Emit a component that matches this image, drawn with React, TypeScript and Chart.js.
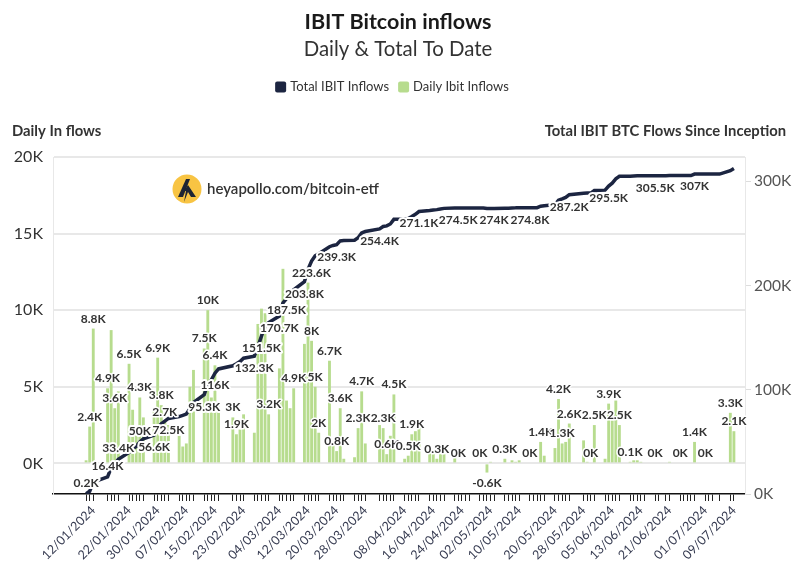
import React, { useEffect, useRef } from "react";
import { Chart, registerables } from "chart.js";

Chart.register(...registerables);

const FONT = "Lato, 'Open Sans', sans-serif";
const NAVY = "#1c2541";
const GREEN = "#b7dc8e";

const TITLE = "IBIT Bitcoin inflows";
const SUBTITLE = "Daily & Total To Date";
const LEGEND_LINE = "Total IBIT Inflows";
const LEGEND_BAR = "Daily Ibit Inflows";
const LEFT_AXIS_TITLE = "Daily In flows";
const RIGHT_AXIS_TITLE = "Total IBIT BTC Flows Since Inception";
const WATERMARK = "heyapollo.com/bitcoin-etf";

const tradingDays: string[] = [
  "10/01/2024", "11/01/2024", "12/01/2024",
  "16/01/2024", "17/01/2024", "18/01/2024", "19/01/2024",
  "22/01/2024", "23/01/2024", "24/01/2024", "25/01/2024", "26/01/2024",
  "29/01/2024", "30/01/2024", "31/01/2024", "01/02/2024", "02/02/2024",
  "05/02/2024", "06/02/2024", "07/02/2024", "08/02/2024", "09/02/2024",
  "12/02/2024", "13/02/2024", "14/02/2024", "15/02/2024", "16/02/2024",
  "20/02/2024", "21/02/2024", "22/02/2024", "23/02/2024",
  "26/02/2024", "27/02/2024", "28/02/2024", "29/02/2024", "01/03/2024",
  "04/03/2024", "05/03/2024", "06/03/2024", "07/03/2024", "08/03/2024",
  "11/03/2024", "12/03/2024", "13/03/2024", "14/03/2024", "15/03/2024",
  "18/03/2024", "19/03/2024", "20/03/2024", "21/03/2024", "22/03/2024",
  "25/03/2024", "26/03/2024", "27/03/2024", "28/03/2024",
  "01/04/2024", "02/04/2024", "03/04/2024", "04/04/2024", "05/04/2024",
  "08/04/2024", "09/04/2024", "10/04/2024", "11/04/2024", "12/04/2024",
  "15/04/2024", "16/04/2024", "17/04/2024", "18/04/2024", "19/04/2024",
  "22/04/2024", "23/04/2024", "24/04/2024", "25/04/2024", "26/04/2024",
  "29/04/2024", "30/04/2024", "01/05/2024", "02/05/2024", "03/05/2024",
  "06/05/2024", "07/05/2024", "08/05/2024", "09/05/2024", "10/05/2024",
  "13/05/2024", "14/05/2024", "15/05/2024", "16/05/2024", "17/05/2024",
  "20/05/2024", "21/05/2024", "22/05/2024", "23/05/2024", "24/05/2024",
  "28/05/2024", "29/05/2024", "30/05/2024", "31/05/2024",
  "03/06/2024", "04/06/2024", "05/06/2024", "06/06/2024", "07/06/2024",
  "10/06/2024", "11/06/2024", "12/06/2024", "13/06/2024", "14/06/2024",
  "17/06/2024", "18/06/2024", "20/06/2024", "21/06/2024",
  "24/06/2024", "25/06/2024", "26/06/2024", "27/06/2024", "28/06/2024",
  "01/07/2024", "02/07/2024", "03/07/2024", "05/07/2024",
  "08/07/2024", "09/07/2024",
];

// Daily IBIT inflows, thousands of BTC
const dailyInflowsK: number[] = [
  0.2, 2.4, 8.8,
  4.9, 8.7, 3.6, 4.7,
  6.5, 3.5, 2.3, 4.3, 3.0,
  3.6, 6.9, 3.8, 2.7, 2.5,
  1.8, 1.1, 1.3, 5.0, 6.1,
  7.5, 10.0, 4.3, 6.4, 4.0,
  3.0, 1.9, 2.2, 3.2,
  2.0, 9.1, 10.1, 9.8, 3.2,
  6.2, 12.7, 4.1, 3.6, 4.9,
  7.8, 11.8, 8.0, 5.0, 2.0,
  6.7, 1.2, 0.8, 3.6, 0.3,
  0.4, 2.3, 4.7, 1.3,
  2.5, 2.3, 0.6, 1.8, 4.5,
  0.3, 0.5, 1.9, 2.1, 2.7,
  0.9, 0.6, 0.3, 0.6, 0.6,
  0.4, 0, 0, 0, 0,
  0, 0, -0.6, 0.1, 0,
  0.3, 0, 0.2, 0.1, 0.2,
  0, 0, 0, 1.4, 0.5,
  1.0, 4.2, 1.3, 1.4, 2.6,
  1.5, 0.1, 0, 2.5,
  0.3, 3.9, 2.8, 4.1, 2.5,
  0.1, 0.2, 0.2, 0.1, 0,
  0, 0, 0, 0.1,
  0, 0, 0, 0, 1.4,
  0, 0, 0, 0,
  3.3, 2.1,
];

// Total IBIT inflows to date, thousands of BTC
const totalInflowsK: number[] = [
  0.2, 2.6, 11.4,
  16.4, 25.1, 28.7, 33.4,
  39.9, 43.4, 45.7, 50.0, 53.0,
  56.6, 63.5, 67.3, 70.0, 72.5,
  74.3, 75.4, 76.7, 81.7, 87.8,
  95.3, 105.3, 109.6, 116.0, 120.0,
  123.0, 124.9, 127.1, 130.3,
  132.3, 141.4, 151.5, 161.3, 164.5,
  170.7, 183.4, 187.5, 191.1, 196.0,
  203.8, 215.6, 223.6, 228.6, 230.6,
  237.3, 238.5, 239.3, 242.9, 243.2,
  243.6, 245.9, 250.6, 251.9,
  254.4, 256.7, 257.3, 259.1, 263.6,
  263.9, 264.4, 266.3, 268.4, 271.1,
  272.0, 272.6, 272.9, 273.5, 274.1,
  274.5, 274.5, 274.5, 274.5, 274.5,
  274.5, 274.5, 273.9, 274.0, 274.0,
  274.3, 274.3, 274.5, 274.6, 274.8,
  274.8, 274.8, 274.8, 276.2, 276.7,
  277.7, 281.9, 283.2, 284.6, 287.2,
  288.7, 288.8, 288.8, 291.3,
  291.6, 295.5, 298.3, 302.4, 304.9,
  305.0, 305.2, 305.4, 305.5, 305.5,
  305.5, 305.5, 305.5, 305.6,
  305.6, 305.6, 305.6, 305.6, 307.0,
  307.0, 307.0, 307.0, 307.0,
  310.3, 312.4,
];

const xTickLabelDays: string[] = [
  "12/01/2024", "22/01/2024", "30/01/2024", "07/02/2024", "15/02/2024", "23/02/2024",
  "04/03/2024", "12/03/2024", "20/03/2024", "28/03/2024", "08/04/2024", "16/04/2024",
  "24/04/2024", "02/05/2024", "10/05/2024", "20/05/2024", "28/05/2024", "05/06/2024",
  "13/06/2024", "21/06/2024", "01/07/2024", "09/07/2024",
];

const barLabelDays: string[] = [
  "11/01/2024", "12/01/2024", "16/01/2024", "18/01/2024", "22/01/2024", "25/01/2024",
  "30/01/2024", "31/01/2024", "01/02/2024", "12/02/2024", "13/02/2024", "15/02/2024",
  "20/02/2024", "21/02/2024", "01/03/2024", "08/03/2024", "13/03/2024", "14/03/2024",
  "15/03/2024", "18/03/2024", "20/03/2024", "21/03/2024", "26/03/2024", "27/03/2024",
  "02/04/2024", "03/04/2024", "05/04/2024", "09/04/2024", "10/04/2024", "17/04/2024",
  "23/04/2024", "29/04/2024", "01/05/2024", "06/05/2024", "13/05/2024", "16/05/2024",
  "21/05/2024", "22/05/2024", "24/05/2024", "30/05/2024", "31/05/2024", "04/06/2024",
  "07/06/2024", "10/06/2024", "17/06/2024", "24/06/2024", "28/06/2024", "01/07/2024",
  "08/07/2024", "09/07/2024",
];

const lineLabelDays: string[] = [
  "10/01/2024", "16/01/2024", "19/01/2024", "25/01/2024", "29/01/2024", "02/02/2024",
  "12/02/2024", "15/02/2024", "26/02/2024", "28/02/2024", "04/03/2024", "06/03/2024",
  "11/03/2024", "13/03/2024", "20/03/2024", "01/04/2024", "12/04/2024", "23/04/2024",
  "03/05/2024", "13/05/2024", "24/05/2024", "04/06/2024", "17/06/2024", "28/06/2024",
];
const lineLabelsAboveDays: string[] = ["10/01/2024", "16/01/2024", "19/01/2024", "25/01/2024"];

const leftTicksK: number[] = [0, 5, 10, 15, 20];
const rightTicksK: number[] = [0, 100, 200, 300];

function dayNumber(s: string): number {
  const [d, m, y] = s.split("/").map(Number);
  return Math.round((Date.UTC(y, m - 1, d) - Date.UTC(2024, 0, 1)) / 86400000);
}

function fmtK(v: number): string {
  let r = Math.round(v * 10) / 10;
  if (Object.is(r, -0)) r = 0;
  return r + "K";
}

function haloText(ctx: CanvasRenderingContext2D, txt: string, x: number, y: number, halo: number) {
  ctx.lineJoin = "round";
  ctx.strokeStyle = "#ffffff";
  ctx.lineWidth = halo;
  ctx.strokeText(txt, x, y);
  ctx.fillStyle = "#333333";
  ctx.fillText(txt, x, y);
}

const valueLabelPlugin = {
  id: "valueLabels",
  afterDatasetsDraw(chart: any) {
    const ctx: CanvasRenderingContext2D = chart.ctx;
    ctx.save();
    ctx.font = `bold 12px ${FONT}`;
    ctx.textAlign = "center";
    const barMeta = chart.getDatasetMeta(1);
    barLabelDays.forEach((day) => {
      const i = tradingDays.indexOf(day);
      if (i < 0) return;
      const el = barMeta.data[i];
      const v = dailyInflowsK[i];
      if (v >= 0) {
        ctx.textBaseline = "alphabetic";
        haloText(ctx, fmtK(v), el.x, el.y - 6, 3);
      } else {
        ctx.textBaseline = "top";
        haloText(ctx, fmtK(v), el.x, el.y + 5, 3);
      }
    });
    const lineMeta = chart.getDatasetMeta(0);
    ctx.textBaseline = "middle";
    lineLabelDays.forEach((day) => {
      const i = tradingDays.indexOf(day);
      if (i < 0) return;
      const el = lineMeta.data[i];
      const above = lineLabelsAboveDays.includes(day);
      haloText(ctx, fmtK(totalInflowsK[i]), el.x, el.y + (above ? -11 : 12), 4);
    });
    ctx.restore();
  },
};

const decorPlugin = {
  id: "decor",
  beforeDatasetsDraw(chart: any) {
    const ctx: CanvasRenderingContext2D = chart.ctx;
    ctx.save();
    // watermark logo
    const cx = 187, cy = 189;
    ctx.fillStyle = "#f8c443";
    ctx.beginPath();
    ctx.arc(cx, cy, 14.5, 0, Math.PI * 2);
    ctx.fill();
    ctx.fillStyle = "#1d2433";
    ctx.beginPath();
    ctx.moveTo(cx - 9, cy + 8);
    ctx.lineTo(cx - 1, cy - 10);
    ctx.lineTo(cx + 3, cy - 10);
    ctx.lineTo(cx - 4, cy + 8);
    ctx.closePath();
    ctx.fill();
    ctx.beginPath();
    ctx.moveTo(cx + 1, cy - 4);
    ctx.lineTo(cx + 9, cy + 8);
    ctx.lineTo(cx + 4, cy + 8);
    ctx.lineTo(cx + 1, cy + 3);
    ctx.lineTo(cx - 3, cy + 13);
    ctx.lineTo(cx - 1, cy + 2);
    ctx.lineTo(cx - 3, cy + 2);
    ctx.closePath();
    ctx.fill();
    ctx.fillStyle = "#333333";
    ctx.font = `600 15px ${FONT}`;
    ctx.textAlign = "left";
    ctx.textBaseline = "middle";
    ctx.fillText(WATERMARK, 207, 189);
    ctx.restore();
  },
  afterDraw(chart: any) {
    const ctx: CanvasRenderingContext2D = chart.ctx;
    ctx.save();
    ctx.textBaseline = "middle";
    ctx.textAlign = "center";
    ctx.fillStyle = "#1a1a1a";
    ctx.font = `bold 21.5px ${FONT}`;
    ctx.fillText(TITLE, 398, 22);
    ctx.fillStyle = "#333333";
    ctx.font = `20.4px ${FONT}`;
    ctx.fillText(SUBTITLE, 398, 49);

    // legend
    ctx.font = `13px ${FONT}`;
    const box = 11, gap = 4, spacing = 9;
    const w1 = ctx.measureText(LEGEND_LINE).width;
    const w2 = ctx.measureText(LEGEND_BAR).width;
    const total = box + gap + w1 + spacing + box + gap + w2;
    let x = 392 - total / 2;
    const ly = 87;
    const rr = (bx: number, color: string) => {
      ctx.fillStyle = color;
      ctx.beginPath();
      (ctx as any).roundRect(bx, ly - box / 2, box, box, 2);
      ctx.fill();
    };
    rr(x, NAVY);
    ctx.fillStyle = "#333333";
    ctx.textAlign = "left";
    ctx.fillText(LEGEND_LINE, x + box + gap, ly);
    x += box + gap + w1 + spacing;
    rr(x, GREEN);
    ctx.fillStyle = "#333333";
    ctx.fillText(LEGEND_BAR, x + box + gap, ly);

    // axis titles
    ctx.font = `bold 14.8px ${FONT}`;
    ctx.fillStyle = "#333333";
    ctx.textAlign = "left";
    ctx.fillText(LEFT_AXIS_TITLE, 12, 131);
    ctx.textAlign = "right";
    ctx.fillText(RIGHT_AXIS_TITLE, 786, 131);
    ctx.restore();
  },
};

export default function App() {
  const ref = useRef<HTMLCanvasElement | null>(null);

  useEffect(() => {
    document.body.style.margin = "0";
    const canvas = ref.current;
    if (!canvas) return;
    const days = tradingDays.map(dayNumber);
    const tickLabelMap: Record<number, string> = {};
    xTickLabelDays.forEach((s) => {
      tickLabelMap[dayNumber(s)] = s;
    });

    const chart = new Chart(canvas, {
      type: "bar",
      data: {
        datasets: [
          {
            type: "line",
            label: LEGEND_LINE,
            data: days.map((d, i) => ({ x: d, y: totalInflowsK[i] })),
            yAxisID: "y1",
            borderColor: NAVY,
            borderWidth: 3.5,
            pointRadius: 0,
            tension: 0,
            order: 0,
          } as any,
          {
            type: "bar",
            label: LEGEND_BAR,
            data: days.map((d, i) => ({ x: d, y: dailyInflowsK[i] })),
            yAxisID: "y",
            backgroundColor: GREEN,
            barPercentage: 0.8,
            categoryPercentage: 1,
            order: 1,
          } as any,
        ],
      },
      options: {
        responsive: false,
        animation: false,
        events: [],
        layout: { padding: { top: 157, left: 0, right: 0, bottom: 0 } },
        plugins: {
          legend: { display: false },
          title: { display: false },
          tooltip: { enabled: false },
        },
        scales: {
          x: {
            type: "linear",
            min: -0.25,
            max: 193.1,
            offset: false,
            afterBuildTicks: (s: any) => {
              s.ticks = days.map((d) => ({ value: d }));
            },
            afterFit: (s: any) => {
              s.height = 81;
              s.paddingLeft = 0;
              s.paddingRight = 0;
            },
            ticks: {
              autoSkip: false,
              minRotation: 45,
              maxRotation: 45,
              padding: 2,
              color: "#353a50",
              font: { family: FONT, size: 12.5 },
              callback: (v: any) => tickLabelMap[Math.round(Number(v))] ?? "",
            },
            grid: {
              display: true,
              offset: false,
              drawOnChartArea: false,
              drawTicks: true,
              tickLength: 7,
              color: "#222222",
              lineWidth: 1,
            },
            border: { display: true, color: "#111111", width: 1.5 },
          },
          y: {
            type: "linear",
            position: "left",
            min: -2,
            max: 20,
            afterBuildTicks: (s: any) => {
              s.ticks = leftTicksK.map((v) => ({ value: v }));
            },
            afterFit: (s: any) => {
              s.width = 53;
            },
            ticks: {
              padding: 10,
              color: "#333333",
              font: { family: FONT, size: 16 },
              callback: (v: any) => v + "K",
            },
            grid: { color: "#e8e8e8", lineWidth: 2, drawTicks: false },
            border: { display: true, color: "#e8e8e8", width: 1 },
          },
          y1: {
            type: "linear",
            position: "right",
            min: 0,
            max: 323.4,
            afterBuildTicks: (s: any) => {
              s.ticks = rightTicksK.map((v) => ({ value: v }));
            },
            afterFit: (s: any) => {
              s.width = 51;
            },
            ticks: {
              padding: 3,
              color: "#555555",
              font: { family: FONT, size: 15.5 },
              callback: (v: any) => v + "K",
            },
            grid: {
              drawOnChartArea: false,
              drawTicks: true,
              tickLength: 6,
              color: "#dddddd",
            },
            border: { display: true, color: "#e8e8e8", width: 1 },
          },
        },
      },
      plugins: [decorPlugin, valueLabelPlugin],
    } as any);

    return () => chart.destroy();
  }, []);

  return <canvas ref={ref} width={796} height={575} style={{ display: "block" }} />;
}
